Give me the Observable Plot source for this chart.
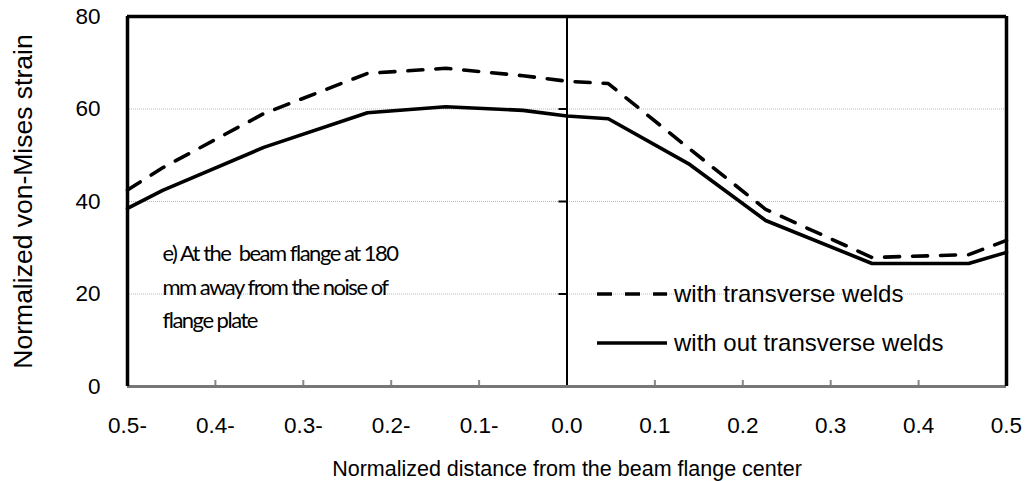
<!DOCTYPE html>
<html>
<head>
<meta charset="utf-8">
<script src="https://cdn.jsdelivr.net/npm/d3@7"></script>
<script src="https://cdn.jsdelivr.net/npm/@observablehq/plot@0.6"></script>
<style>
  html, body { margin: 0; padding: 0; background: #fff; }
  #wrap { position: relative; width: 1028px; height: 481px; }
  #legend { position: absolute; left: 596px; top: 269px; font-family: Arial, "Liberation Sans", sans-serif; font-size: 24px; color: #000; }
  .row { display: flex; align-items: center; height: 49px; }
  .row svg { margin-right: 6px; }
</style>
</head>
<body>
<div id="wrap"></div>
<script>
// ---- data ----
const xPos = [-0.5, -0.46, -0.345, -0.227, -0.138, -0.05, 0, 0.047, 0.138, 0.226, 0.347, 0.457, 0.5];
const withWelds = [42.5, 47.3, 59.0, 67.7, 68.8, 67.2, 66.0, 65.5, 51.6, 38.3, 27.9, 28.5, 31.6];
const withoutWelds = [38.5, 42.4, 51.7, 59.2, 60.5, 59.7, 58.5, 57.9, 48.2, 35.9, 26.6, 26.6, 29.0];
const seriesNames = ["with transverse welds", "with out transverse welds"];
const xTicks = [-0.5, -0.4, -0.3, -0.2, -0.1, 0, 0.1, 0.2, 0.3, 0.4, 0.5];
const yTicks = [0, 20, 40, 60, 80];
const gridValues = [20, 40, 60];
const xLabel = "Normalized distance from the beam flange center";
const yLabel = "Normalized von-Mises strain";
const note = "e) At the  beam flange at 180\nmm away from the noise of\nflange plate";

const W = 1028, H = 481, ML = 127, MR = 22, MT = 16, MB = 95;
const halfW = (W - ML - MR) / 2;

const rows = [];
xPos.forEach((x, i) => {
  rows.push({x, y: withWelds[i], s: seriesNames[0]});
  rows.push({x, y: withoutWelds[i], s: seriesNames[1]});
});
const fmt = d => d < 0 ? Math.abs(d).toFixed(1) + "-" : d.toFixed(1);
const xDomain = [xTicks[0], xTicks[xTicks.length - 1]];
const yDomain = [yTicks[0], yTicks[yTicks.length - 1]];

const chart = Plot.plot({
  width: W, height: H,
  marginLeft: ML, marginRight: MR, marginTop: MT, marginBottom: MB,
  style: {fontFamily: "Arial, 'Liberation Sans', sans-serif", fontSize: "22px", color: "#000", background: "#fff"},
  x: {domain: xDomain},
  y: {domain: yDomain},
  marks: [
    Plot.ruleY(gridValues, {stroke: "#b8b8b8", strokeWidth: 1, strokeDasharray: "1,1"}),
    Plot.axisX(xTicks, {anchor: "bottom", tickSize: 0, tickPadding: 31, tickFormat: fmt, label: null, fontSize: 22.5}),
    Plot.axisX([], {anchor: "bottom", tickSize: 0, label: xLabel, labelAnchor: "center", labelOffset: 89, labelArrow: "none", fontSize: 21.5}),
    Plot.axisX(xTicks, {anchor: "bottom", tickSize: 6, dy: -6, tickFormat: () => "", label: null, stroke: "#888", strokeWidth: 2}),
    Plot.axisY(yTicks, {anchor: "left", tickSize: 0, tickPadding: 27, label: null, fontSize: 22.5}),
    Plot.axisY([], {anchor: "left", tickSize: 0, label: yLabel, labelAnchor: "center", labelOffset: 114, labelArrow: "none", fontSize: 26.5}),
    Plot.axisY(gridValues, {anchor: "left", tickSize: 8, dx: halfW, tickFormat: () => "", label: null, stroke: "#000", strokeWidth: 2}),
    Plot.ruleX([0], {stroke: "#000", strokeWidth: 2}),
    Plot.ruleY([yDomain[0]], {stroke: "#777", strokeWidth: 3}),
    Plot.ruleY([yDomain[1]], {stroke: "#000", strokeWidth: 3.5}),
    Plot.ruleX(xDomain, {stroke: "#000", strokeWidth: 3.5}),
    Plot.line(rows.filter(d => d.s === seriesNames[1]), {x: "x", y: "y", stroke: "#000", strokeWidth: 3.6}),
    Plot.line(rows.filter(d => d.s === seriesNames[0]), {x: "x", y: "y", stroke: "#000", strokeWidth: 3.6, strokeDasharray: "15,13"}),
    Plot.text([note], {frameAnchor: "top-left", dx: 35, dy: 221, text: d => d, textAnchor: "start", lineAnchor: "top",
      lineHeight: 1.52, fontSize: 22, fontFamily: "Lato, 'Open Sans', sans-serif", fill: "#000"})
  ]
});
chart.querySelectorAll("text").forEach(t => {
  const s = t.textContent;
  if (s.startsWith("e) At") || s.startsWith("mm away") || s.startsWith("flange plate")) {
    t.style.letterSpacing = "-1.5px";
  }
});
const wrap = document.getElementById("wrap");
wrap.appendChild(chart);

// legend
const legend = document.createElement("div");
legend.id = "legend";
[[seriesNames[0], "15,13"], [seriesNames[1], null]].forEach(([name, dash]) => {
  const row = document.createElement("div");
  row.className = "row";
  row.innerHTML = `<svg width="72" height="10"><line x1="1" y1="5" x2="71" y2="5" stroke="#000" stroke-width="3.6" ${dash ? `stroke-dasharray="${dash}"` : ""}/></svg><span>${name}</span>`;
  legend.appendChild(row);
});
wrap.appendChild(legend);
</script>
</body>
</html>
